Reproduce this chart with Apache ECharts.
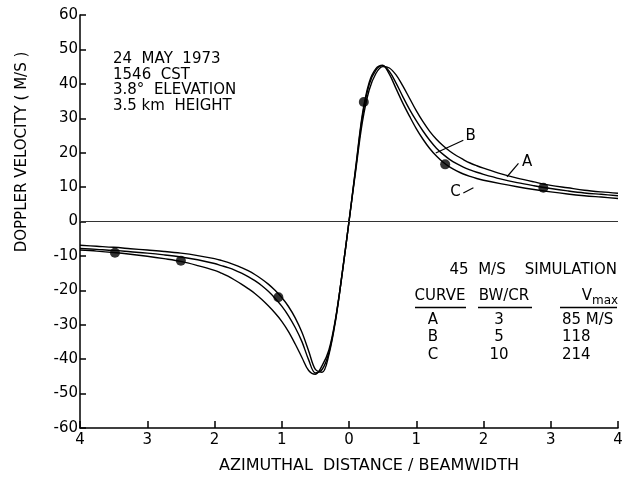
<!DOCTYPE html>
<html>
<head>
<meta charset="utf-8">
<script src="https://cdn.jsdelivr.net/npm/echarts@6/dist/echarts.min.js"></script>
<style>
  html, body { margin: 0; padding: 0; background: #fff; }
  #chart { width: 626px; height: 480px; }
</style>
</head>
<body>
<div id="chart"></div>
<script>
// Azimuthal distance (in beamwidths) at which the simulated profiles are sampled
const distance = [-4, -3.75, -3.5, -3.25, -3, -2.75, -2.5, -2.25,
  -2, -1.9, -1.8, -1.7, -1.6, -1.5, -1.4, -1.3, -1.2, -1.1, -1, -0.9, -0.8, -0.7, -0.6, -0.5, -0.4, -0.3, -0.2, -0.1,
  0,
  0.1, 0.2, 0.3, 0.4, 0.5, 0.6, 0.7, 0.8, 0.9, 1, 1.1, 1.2, 1.3, 1.4, 1.5, 1.6, 1.7, 1.8, 1.9, 2,
  2.25, 2.5, 2.75, 3, 3.25, 3.5, 3.75, 4];

// Simulated Doppler velocity (m/s), curve A: BW/CR = 3
const curveA = [-8.3, -8.6, -9.0, -9.5, -10.1, -10.8, -11.6, -12.8,
  -14.2, -15.0, -15.9, -17.0, -18.2, -19.5, -20.9, -22.6, -24.5, -26.6, -29.0, -32.0, -35.6, -39.5, -43.3, -44.4, -41.9, -37.4, -28.2, -14.8,
  0,
  14.8, 29.0, 38.2, 43.0, 45.0, 44.6, 42.6, 39.4, 35.8, 32.2, 29.0, 26.2, 23.9, 22.0, 20.4, 19.1, 18.0, 17.0, 16.2, 15.5,
  13.9, 12.6, 11.5, 10.5, 9.8, 9.1, 8.6, 8.2];

// Curve B: BW/CR = 5
const curveB = [-7.8, -8.1, -8.4, -8.8, -9.2, -9.7, -10.3, -11.1,
  -12.2, -12.8, -13.4, -14.1, -15.0, -16.0, -17.2, -18.6, -20.3, -22.3, -24.6, -27.4, -30.8, -34.9, -40.2, -44.0, -43.0, -38.2, -28.5, -14.9,
  0,
  15.4, 30.6, 39.8, 44.0, 45.3, 43.6, 40.2, 36.3, 32.6, 29.3, 26.3, 23.6, 21.3, 19.5, 18.0, 16.8, 15.8, 15.0, 14.3, 13.7,
  12.4, 11.3, 10.4, 9.6, 8.9, 8.3, 7.9, 7.5];

// Curve C: BW/CR = 10
const curveC = [-6.9, -7.2, -7.5, -7.9, -8.3, -8.7, -9.2, -9.9,
  -10.8, -11.3, -11.9, -12.6, -13.4, -14.3, -15.4, -16.7, -18.2, -20.0, -22.1, -24.7, -28.0, -32.2, -37.6, -43.0, -43.8, -38.8, -28.8, -15.0,
  0,
  15.8, 31.3, 40.4, 44.4, 45.4, 42.8, 38.6, 34.4, 30.6, 27.0, 23.9, 21.2, 19.0, 17.2, 15.8, 14.7, 13.8, 13.1, 12.5, 12.0,
  11.0, 10.1, 9.3, 8.6, 8.0, 7.5, 7.1, 6.7];

// Observed Doppler velocities
const observedX = [-3.48, -2.5, -1.05, 0.22, 1.43, 2.89];
const observedY = [-9.1, -11.4, -22.0, 34.7, 16.6, 9.8];

// Axis ticks
const xTicks = [-4, -3, -2, -1, 0, 1, 2, 3, 4];
const yTicks = [-60, -50, -40, -30, -20, -10, 0, 10, 20, 30, 40, 50, 60];

// Header and simulation table
const headerLines = ['24  MAY  1973', '1546  CST', '3.8\u00b0  ELEVATION', '3.5 km  HEIGHT'];
const tableTitle = '45  M/S    SIMULATION';
const tableCurves = ['A', 'B', 'C'];
const tableRatios = ['3', '5', '10'];
const tableVmax = ['85 M/S', '118', '214'];

// Curve tags with their leader lines, in data units
const curveTags = [
  { name: 'A', at: [2.65, 17.2], from: [2.35, 13.0], to: [2.52, 16.9] },
  { name: 'B', at: [1.81, 24.7], from: [1.29, 19.9], to: [1.70, 23.6] },
  { name: 'C', at: [1.585, 8.4], from: [1.70, 8.3], to: [1.85, 9.8] }
];

const FONT = 'DejaVu Sans';
const INK = '#000';

const chart = echarts.init(document.getElementById('chart'), null, { renderer: 'canvas' });

function pairs(xs, ys) { return xs.map((x, i) => [x, ys[i]]); }

function curveSeries(name, ys) {
  return {
    name: name,
    type: 'line',
    data: pairs(distance, ys),
    smooth: 0.35,
    showSymbol: false,
    symbol: 'none',
    lineStyle: { color: INK, width: 1.4 },
    z: 3
  };
}

const textStyle = (extra) => Object.assign({ fill: INK, font: '15px "' + FONT + '"' }, extra || {});

const graphics = [];
headerLines.forEach((t, i) => {
  graphics.push({ type: 'text', left: 113, top: 52 + i * 15.5, style: textStyle({ text: t }) });
});
// y-axis title
graphics.push({
  type: 'text', x: 22, y: 152, rotation: Math.PI / 2,
  style: textStyle({ text: 'DOPPLER VELOCITY ( M/S )', textAlign: 'center', textVerticalAlign: 'middle' })
});
// x-axis title
graphics.push({
  type: 'text', x: 369, y: 466,
  style: textStyle({ text: 'AZIMUTHAL  DISTANCE / BEAMWIDTH', textAlign: 'center', textVerticalAlign: 'middle', font: '16px "' + FONT + '"' })
});
// simulation table
graphics.push({ type: 'text', x: 617, y: 270, style: textStyle({ text: tableTitle, textAlign: 'right', textVerticalAlign: 'middle' }) });
graphics.push({ type: 'text', x: 440, y: 296, style: textStyle({ text: 'CURVE', textAlign: 'center', textVerticalAlign: 'middle' }) });
graphics.push({ type: 'text', x: 504, y: 296, style: textStyle({ text: 'BW/CR', textAlign: 'center', textVerticalAlign: 'middle' }) });
graphics.push({ type: 'text', x: 592, y: 296, style: textStyle({ text: 'V', textAlign: 'right', textVerticalAlign: 'middle' }) });
graphics.push({ type: 'text', x: 592, y: 301, style: textStyle({ text: 'max', textAlign: 'left', textVerticalAlign: 'middle', font: '12px "' + FONT + '"' }) });
[[415, 466], [478, 532], [560, 617]].forEach(([a, b]) => {
  graphics.push({ type: 'line', shape: { x1: a, y1: 307.5, x2: b, y2: 307.5 }, style: { stroke: INK, lineWidth: 1.3 } });
});
tableCurves.forEach((c, i) => {
  const y = 320 + i * 17.5;
  graphics.push({ type: 'text', x: 433, y: y, style: textStyle({ text: c, textAlign: 'center', textVerticalAlign: 'middle' }) });
  graphics.push({ type: 'text', x: 499, y: y, style: textStyle({ text: tableRatios[i], textAlign: 'center', textVerticalAlign: 'middle' }) });
  graphics.push({ type: 'text', x: 562, y: y, style: textStyle({ text: tableVmax[i], textAlign: 'left', textVerticalAlign: 'middle' }) });
});

const option = {
  animation: false,
  backgroundColor: '#fff',
  grid: { left: 80, right: 8, top: 15, bottom: 52, containLabel: false },
  xAxis: {
    type: 'value', min: -4, max: 4, interval: 1,
    axisLine: { onZero: false, lineStyle: { color: INK, width: 1.5 } },
    axisTick: { inside: true, length: 7, lineStyle: { color: INK, width: 1.5 } },
    axisLabel: {
      color: INK, fontFamily: FONT, fontSize: 15, margin: 5,
      formatter: (v) => xTicks.indexOf(v) >= 0 ? String(Math.abs(v)) : ''
    },
    splitLine: { show: false }
  },
  yAxis: {
    type: 'value', min: -60, max: 60, interval: 10,
    axisLine: { onZero: false, lineStyle: { color: INK, width: 1.5 } },
    axisTick: { inside: true, length: 6, lineStyle: { color: INK, width: 1.5 } },
    axisLabel: {
      color: INK, fontFamily: FONT, fontSize: 15, margin: 2,
      formatter: (v) => yTicks.indexOf(v) >= 0 ? String(v) : ''
    },
    splitLine: { show: false }
  },
  series: [
    curveSeries('A', curveA),
    curveSeries('B', curveB),
    curveSeries('C', curveC),
    {
      name: 'observed',
      type: 'scatter',
      data: pairs(observedX, observedY),
      symbol: 'circle',
      symbolSize: 10,
      itemStyle: { color: INK },
      z: 5,
      markLine: {
        silent: true,
        symbol: 'none',
        label: { show: false },
        lineStyle: { color: '#333', type: 'solid', width: 1.2 },
        data: [{ yAxis: 0 }].concat(curveTags.map(t => [
          { coord: t.from, lineStyle: { color: INK, width: 1.2 } },
          { coord: t.to }
        ]))
      },
      markPoint: {
        silent: true,
        symbol: 'circle',
        symbolSize: 1,
        itemStyle: { color: 'rgba(0,0,0,0)' },
        label: { show: true, position: 'inside', color: INK, fontFamily: FONT, fontSize: 15, formatter: (p) => p.name },
        data: curveTags.map(t => ({ name: t.name, coord: t.at }))
      }
    }
  ],
  graphic: graphics
};

chart.setOption(option);
</script>
</body>
</html>
